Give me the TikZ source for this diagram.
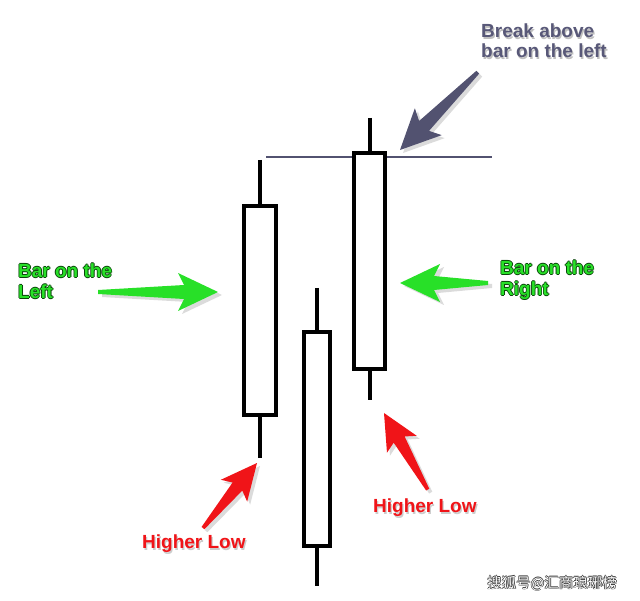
\documentclass[tikz,border=0pt]{standalone}
\usepackage{fontspec}
\setmainfont{Liberation Sans}
\newfontfamily\cjk{Noto Sans CJK SC}
\definecolor{agreen}{RGB}{40,224,40}
\definecolor{dgreen}{RGB}{10,70,10}
\definecolor{ared}{RGB}{240,20,24}
\definecolor{apurple}{RGB}{82,82,112}
\definecolor{tpurple}{RGB}{88,88,120}
\newcommand{\outlined}[4][0.7pt]{%
  \makebox[0pt][l]{\raisebox{#1}{\color{#2}#4}}%
  \makebox[0pt][l]{\raisebox{-#1}{\color{#2}#4}}%
  \makebox[0pt][l]{\hspace{#1}\color{#2}#4}%
  \makebox[0pt][l]{\hspace{-#1}\color{#2}#4}%
  {\color{#3}#4}}
\newcommand{\shadowed}[3]{%
  \makebox[0pt][l]{\hspace{1.2pt}\raisebox{-1.2pt}{\color{#1}#3}}%
  {\color{#2}#3}}
\tikzset{
  candle/.style={draw=black, line width=4pt, fill=white},
  wick/.style={draw=black, line width=4pt},
  level/.style={draw=apurple, line width=1.6pt},
  fatarrow/.pic={
    \fill[pic actions] (0,0) -- (-40,19) -- (-34,7) -- (-#1,2) -- (-#1,-2) -- (-34,-7) -- (-40,-19) -- cycle;
  },
  shadowarrow/.style={fill=black!14},
  greenlbl/.style={font=\fontsize{19}{21}\selectfont\bfseries, align=left, anchor=north west, inner sep=0pt},
  redlbl/.style={font=\fontsize{19}{21}\selectfont\bfseries, anchor=north west, inner sep=0pt},
}
\begin{document}
\begin{tikzpicture}[x=1pt,y=-1pt]
\useasboundingbox (0,0) rectangle (640,601);
% level line
\coordinate (lvlL) at (266,157);
\coordinate (lvlR) at (492,157);
\draw[level] (lvlL) -- (lvlR);
% candle 1
\coordinate (c1t) at (260,160); \coordinate (c1b) at (260,458);
\draw[wick] (c1t) -- (c1b);
\filldraw[candle] (244,206) rectangle (276,415);
% candle 2
\coordinate (c2t) at (317,288); \coordinate (c2b) at (317,586);
\draw[wick] (c2t) -- (c2b);
\filldraw[candle] (304,332) rectangle (330,546);
% candle 3
\coordinate (c3t) at (370,118); \coordinate (c3b) at (370,400);
\draw[wick] (c3t) -- (c3b);
\filldraw[candle] (354,153) rectangle (385,369);
% arrows (shadows)
\pic[shadowarrow, shift={(222,295)}] {fatarrow=120};
\pic[shadowarrow, shift={(404,286)}, rotate=180] {fatarrow=88};
\pic[shadowarrow, shift={(403,153)}, rotate=225] {fatarrow=110};
\pic[shadowarrow, shift={(260,466)}, rotate=50.3, scale=0.9] {fatarrow=94};
\pic[shadowarrow, shift={(387,416)}, rotate=119.7, scale=0.9] {fatarrow=98};
% arrows
\pic[fill=agreen, shift={(218,292)}] {fatarrow=120};
\pic[fill=agreen, shift={(400,283)}, rotate=180] {fatarrow=88};
\pic[fill=apurple, shift={(400,150)}, rotate=225] {fatarrow=110};
\pic[fill=ared, shift={(257,463)}, rotate=50.3, scale=0.9] {fatarrow=94};
\pic[fill=ared, shift={(384,413)}, rotate=119.7, scale=0.9] {fatarrow=98};
% labels
\node[greenlbl] (lblL) at (18,263) {\outlined[0.9pt]{dgreen}{agreen}{Bar on the}\\\outlined[0.9pt]{dgreen}{agreen}{Left}};
\node[greenlbl] (lblR) at (500,260) {\outlined[0.9pt]{dgreen}{agreen}{Bar on the}\\\outlined[0.9pt]{dgreen}{agreen}{Right}};
\node[font=\fontsize{19}{20}\selectfont\bfseries, align=left, anchor=north west, inner sep=0pt] (lblB) at (481,24) {\shadowed{black!25}{tpurple}{Break above}\\\shadowed{black!25}{tpurple}{bar on the left}};
\node[redlbl] (lblH1) at (142,535) {\shadowed{black!20}{ared}{Higher Low}};
\node[redlbl] (lblH2) at (373,499) {\shadowed{black!20}{ared}{Higher Low}};
\node[font=\cjk\fontsize{14.5}{16}\selectfont, anchor=north west, inner sep=0pt] (wm) at (487,575) {\outlined{black!80}{white}{搜狐号@汇商琅琊榜}};
\end{tikzpicture}
\end{document}
